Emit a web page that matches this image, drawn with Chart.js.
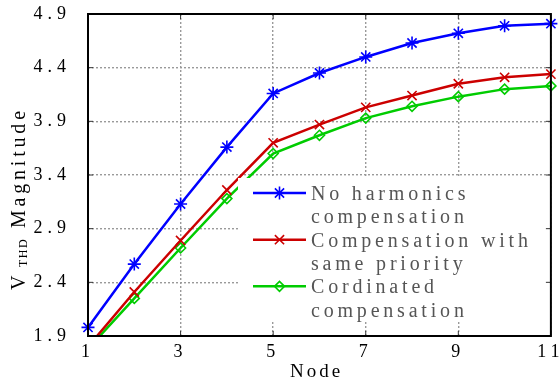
<!DOCTYPE html>
<html>
<head>
<meta charset="utf-8">
<script src="https://cdn.jsdelivr.net/npm/chart.js@4/dist/chart.umd.min.js"></script>
<style>
  html, body { margin: 0; padding: 0; background: #fff; }
  #wrap { width: 559px; height: 384px; }
</style>
</head>
<body>
<div id="wrap"><canvas id="c"></canvas></div>
<script>
// Node index along the feeder
const nodes = [1, 2, 3, 4, 5, 6, 7, 8, 9, 10, 11];
// V_THD magnitude per node
const noCompensation = [1.98, 2.57, 3.13, 3.66, 4.16, 4.35, 4.50, 4.63, 4.72, 4.79, 4.81];
const samePriority   = [1.80, 2.31, 2.79, 3.26, 3.70, 3.87, 4.03, 4.14, 4.25, 4.31, 4.34];
const coordinated    = [1.78, 2.25, 2.72, 3.18, 3.60, 3.77, 3.93, 4.04, 4.13, 4.20, 4.23];
// Axis ticks
const xTickValues = [1, 3, 5, 7, 9, 11];
const yTickValues = [1.9, 2.4, 2.9, 3.4, 3.9, 4.4, 4.9];
// Legend entries (two text lines each)
const seriesLabels = [
  ['No harmonics', 'compensation'],
  ['Compensation with', 'same priority'],
  ['Cordinated', 'compensation']
];
const xTitle = 'Node';
const yTitleMain = 'V';
const yTitleSub = 'THD';
const yTitleRest = 'Magnitude';

const SERIF = '"Liberation Serif", "Times New Roman", serif';
const TICK_SPACING = '5px';

function toPoints(values) {
  return nodes.map((n, i) => ({ x: n, y: values[i] }));
}

const styles = [
  { color: '#0000ff', pointStyle: 'star', radius: 6.5, fill: '#0000ff' },
  { color: '#cc0000', pointStyle: 'crossRot', radius: 6.5, fill: '#cc0000' },
  { color: '#00cc00', pointStyle: 'rectRot', radius: 5, fill: 'rgba(0,0,0,0)' }
];
const seriesValues = [noCompensation, samePriority, coordinated];

const datasets = seriesValues.map((vals, i) => ({
  label: seriesLabels[i].join(' '),
  data: toPoints(vals),
  borderColor: styles[i].color,
  backgroundColor: styles[i].fill,
  borderWidth: 2.5,
  pointStyle: styles[i].pointStyle,
  pointRadius: styles[i].radius,
  pointBorderWidth: 1.6,
  pointBorderColor: styles[i].color,
  pointBackgroundColor: styles[i].fill,
  tension: 0,
  clip: { left: 10, right: 10, top: 10, bottom: 0 }
}));

// Draws the frame, inner tick marks, boxed legend and axis titles
const decorations = {
  id: 'decorations',
  beforeUpdate(chart) { chart.ctx.letterSpacing = TICK_SPACING; },
  beforeLayout(chart) { chart.ctx.letterSpacing = TICK_SPACING; },
  beforeDraw(chart) {
    const ctx = chart.ctx;
    ctx.save();
    ctx.fillStyle = '#fff';
    ctx.fillRect(0, 0, chart.width, chart.height);
    ctx.restore();
    ctx.letterSpacing = TICK_SPACING;
  },
  afterDatasetsDraw(chart) {
    const ctx = chart.ctx;
    const a = chart.chartArea;
    const xs = chart.scales.x, ys = chart.scales.y;

    // legend panel
    const box = { left: 238, top: 178, right: a.right - 1, bottom: 322 };
    ctx.save();
    ctx.fillStyle = '#fff';
    ctx.fillRect(box.left, box.top, box.right - box.left, box.bottom - box.top);

    const lineX0 = 253, lineX1 = 306, textX = 311;
    const firstBaseline = 200, step = 23.33;
    ctx.font = '20px ' + SERIF;
    ctx.letterSpacing = '3.8px';
    ctx.textAlign = 'left';
    ctx.textBaseline = 'alphabetic';
    seriesLabels.forEach((lines, i) => {
      const base = firstBaseline + step * 2 * i;
      const ly = base - 7;
      const st = styles[i];
      ctx.strokeStyle = st.color;
      ctx.lineWidth = 2.5;
      ctx.beginPath();
      ctx.moveTo(lineX0, ly);
      ctx.lineTo(lineX1, ly);
      ctx.stroke();
      ctx.fillStyle = st.fill;
      ctx.strokeStyle = st.color;
      ctx.lineWidth = 1.6;
      if (Chart.helpers && Chart.helpers.drawPoint) {
        Chart.helpers.drawPoint(ctx, { pointStyle: st.pointStyle, radius: st.radius, rotation: 0, borderWidth: 1.6 }, (lineX0 + lineX1) / 2, ly);
      }
      ctx.fillStyle = '#555';
      lines.forEach((t, j) => ctx.fillText(t, textX, base + step * j));
    });
    ctx.restore();

    // frame and inward ticks
    ctx.save();
    ctx.strokeStyle = '#333';
    ctx.lineWidth = 1;
    const tl = 5;
    xTickValues.forEach(v => {
      const px = xs.getPixelForValue(v);
      ctx.beginPath();
      ctx.moveTo(px, a.bottom); ctx.lineTo(px, a.bottom - tl);
      ctx.moveTo(px, a.top); ctx.lineTo(px, a.top + tl);
      ctx.stroke();
    });
    yTickValues.forEach(v => {
      const py = ys.getPixelForValue(v);
      ctx.beginPath();
      ctx.moveTo(a.left, py); ctx.lineTo(a.left + tl, py);
      ctx.moveTo(a.right, py); ctx.lineTo(a.right - tl, py);
      ctx.stroke();
    });
    ctx.strokeStyle = '#000';
    ctx.lineWidth = 2;
    ctx.strokeRect(a.left, a.top, a.right - a.left, a.bottom - a.top);
    ctx.restore();

    // x-axis title
    ctx.save();
    ctx.font = '19px ' + SERIF;
    ctx.letterSpacing = '3px';
    ctx.fillStyle = '#000';
    ctx.textAlign = 'left';
    ctx.textBaseline = 'alphabetic';
    ctx.fillText(xTitle, 290, 377);
    ctx.restore();

    // y-axis title with subscript
    ctx.save();
    ctx.translate(25, 290);
    ctx.rotate(-Math.PI / 2);
    ctx.fillStyle = '#000';
    ctx.textAlign = 'left';
    ctx.textBaseline = 'alphabetic';
    ctx.font = '20px ' + SERIF;
    ctx.letterSpacing = '3.8px';
    ctx.fillText(yTitleMain, 0, 0);
    ctx.font = '12px ' + SERIF;
    ctx.letterSpacing = '1.5px';
    ctx.fillText(yTitleSub, 23, 2);
    ctx.font = '20px ' + SERIF;
    ctx.letterSpacing = '3.8px';
    ctx.fillText(yTitleRest, 62, 0);
    ctx.restore();
    ctx.letterSpacing = TICK_SPACING;
  }
};

const gridStyle = {
  color: '#9a9a9a',
  lineWidth: 1.4,
  drawTicks: false
};

new Chart(document.getElementById('c'), {
  type: 'line',
  data: { datasets },
  options: {
    responsive: true,
    maintainAspectRatio: false,
    animation: false,
    events: [],
    layout: { padding: { left: 0, top: 14, right: 8, bottom: 0 } },
    plugins: { legend: { display: false }, tooltip: { enabled: false } },
    scales: {
      x: {
        type: 'linear',
        min: 1,
        max: 11,
        grid: gridStyle,
        border: { display: false, dash: [2, 2] },
        ticks: {
          color: '#000',
          font: { family: SERIF, size: 18 },
          padding: 5,
          maxRotation: 0,
          autoSkip: false,
          callback: v => String(v)
        },
        afterBuildTicks: s => { s.ticks = xTickValues.map(v => ({ value: v })); },
        afterFit: s => { s.height = 48; s.paddingLeft = 0; s.paddingRight = 0; }
      },
      y: {
        type: 'linear',
        min: 1.9,
        max: 4.9,
        grid: gridStyle,
        border: { display: false, dash: [2, 2] },
        ticks: {
          color: '#000',
          font: { family: SERIF, size: 18 },
          padding: 17,
          autoSkip: false,
          callback: v => Number(v).toFixed(1)
        },
        afterBuildTicks: s => { s.ticks = yTickValues.map(v => ({ value: v })); },
        afterFit: s => { s.width = 88; s.paddingTop = 0; s.paddingBottom = 0; }
      }
    }
  },
  plugins: [decorations]
});
</script>
</body>
</html>
